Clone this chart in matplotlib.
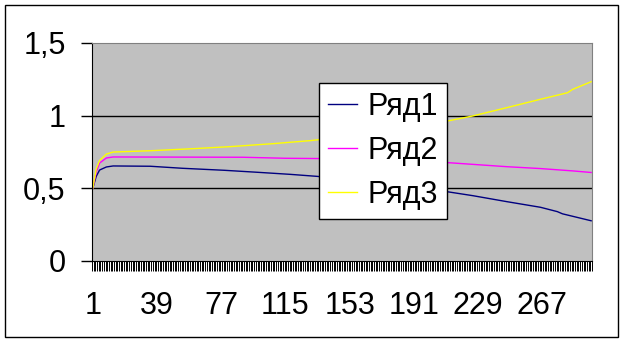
import numpy as np
import matplotlib
matplotlib.use("Agg")
import matplotlib.pyplot as plt
from matplotlib.patches import Rectangle

plt.rcParams['font.family'] = ['Liberation Sans', 'DejaVu Sans']

# number of categories on the x axis (1..n_cat)
n_cat = 296
tick_labels = ['1', '39', '77', '115', '153', '191', '229', '267']
tick_cats = [1, 39, 77, 115, 153, 191, 229, 267]

# values at selected categories
cat_1 = [1, 3, 5, 9, 13, 35, 54, 79, 99, 118, 134, 175, 211, 226, 246, 266, 276, 279, 296]
ryad1 = [0.50, 0.58, 0.624, 0.645, 0.652, 0.650, 0.636, 0.622, 0.608, 0.594, 0.580, 0.530,
         0.474, 0.447, 0.406, 0.367, 0.337, 0.322, 0.274]

cat_2 = [1, 3, 5, 9, 13, 90, 115, 136, 175, 211, 226, 246, 266, 285, 296]
ryad2 = [0.50, 0.61, 0.672, 0.707, 0.714, 0.712, 0.705, 0.703, 0.692, 0.675, 0.663, 0.647,
         0.634, 0.618, 0.607]

cat_3 = [1, 3, 5, 9, 13, 35, 60, 82, 108, 130, 175, 211, 226, 246, 266, 282, 285, 296]
ryad3 = [0.50, 0.63, 0.69, 0.734, 0.748, 0.757, 0.771, 0.785, 0.806, 0.827, 0.885,
         0.962, 0.997, 1.054, 1.112, 1.157, 1.180, 1.233]

fig = plt.figure(figsize=(6.25, 3.42), dpi=100)
ax = fig.add_axes([92 / 625, 1 - 260.5 / 342, 500 / 625, (260.5 - 43) / 342])
ax.set_facecolor('#C0C0C0')

ax.plot(cat_1, ryad1, color='#000080', lw=1.0, label='Ряд1')
ax.plot(cat_2, ryad2, color='#FF00FF', lw=1.0, label='Ряд2')
ax.plot(cat_3, ryad3, color='#FFFF00', lw=1.0, label='Ряд3')

for v in [0.5, 1.0]:
    ax.axhline(v, color='black', lw=1.0, zorder=1)

ax.set_xlim(0.5, n_cat + 0.5)
ax.set_ylim(0, 1.5)

ax.set_yticks([0, 0.5, 1, 1.5])
ax.set_yticklabels(['0', '0,5', '1', '1,5'])
ax.tick_params(axis='y', length=8, width=1, direction='out', pad=11, labelsize=22)

ax.set_xticks(tick_cats)
ax.set_xticklabels(tick_labels)
ax.set_xticks(np.arange(0.5, n_cat + 1, 1.0), minor=True)
ax.tick_params(axis='x', which='major', length=0, pad=22, labelsize=22)
ax.tick_params(axis='x', which='minor', length=7, width=0.7, direction='out')

ax.spines['left'].set_color('black')
ax.spines['bottom'].set_color('black')
ax.spines['top'].set_color('#808080')
ax.spines['right'].set_color('#808080')

leg = ax.legend(loc='upper left', bbox_to_anchor=(319 / 625, 1 - 83 / 342),
                bbox_transform=fig.transFigure, fontsize=22, frameon=True,
                fancybox=False, shadow=False, handlelength=0.95, handletextpad=0.33,
                borderpad=0.3, labelspacing=0.45, borderaxespad=0)
leg.get_frame().set_edgecolor('black')
leg.get_frame().set_linewidth(1.0)
leg.get_frame().set_facecolor('white')
leg.get_frame().set_alpha(1)

# outer chart border
fig.patches.append(Rectangle((5 / 625, 5 / 342), 613 / 625, 332 / 342,
                             transform=fig.transFigure, fill=False,
                             edgecolor='black', lw=1.0))

fig.savefig('out.png', dpi=100)
